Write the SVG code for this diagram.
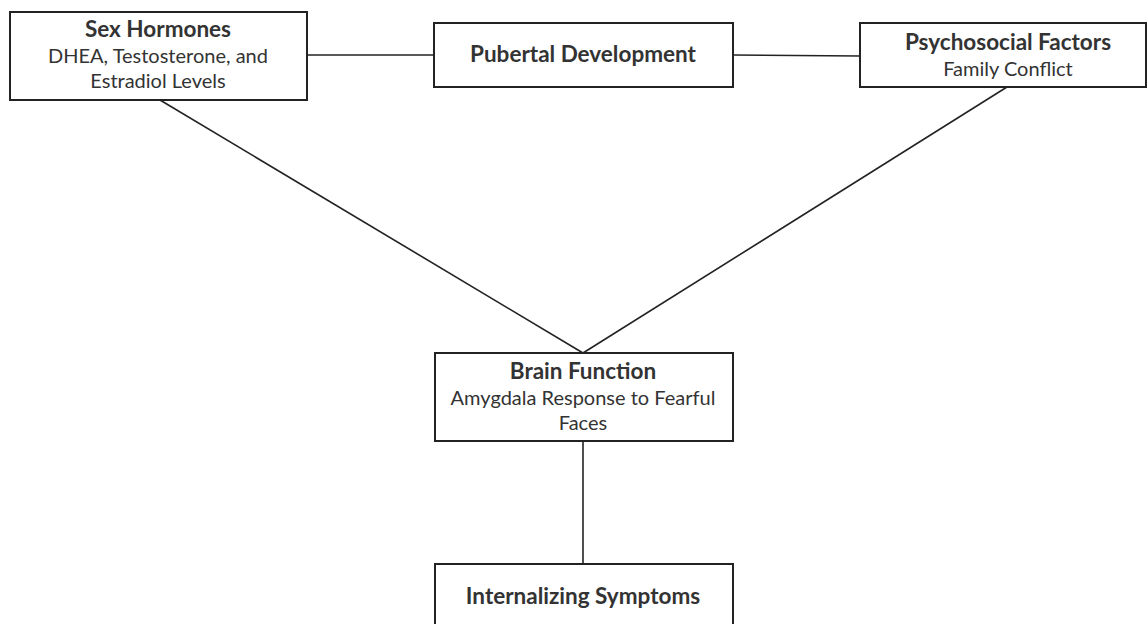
<svg xmlns="http://www.w3.org/2000/svg" width="1148" height="624" viewBox="0 0 1148 624">
<style>
.box{fill:#fff;stroke:#222;stroke-width:2}
.t{font-family:Lato,"Open Sans",sans-serif;fill:#333;text-anchor:middle}
.b{font-weight:bold;font-size:22.5px}
.r{font-size:20px}
.c{stroke:#222;stroke-width:1.6;fill:none}
</style>
<rect width="1148" height="624" fill="#fff"/>
<g id="connectors">
<line class="c" x1="307" y1="55" x2="434" y2="55"/>
<line class="c" x1="733" y1="55" x2="860" y2="56"/>
<line class="c" x1="160" y1="100" x2="583" y2="353"/>
<line class="c" x1="1007" y1="87" x2="583" y2="353"/>
<line class="c" x1="583" y1="441" x2="583" y2="564"/>
</g>
<g id="sex-hormones">
<rect class="box" x="10" y="12" width="297" height="88"/>
<text class="t b" x="158" y="37">Sex Hormones</text>
<text class="t r" x="158" y="63">DHEA, Testosterone, and</text>
<text class="t r" x="158" y="88">Estradiol Levels</text>
</g>
<g id="pubertal-development">
<rect class="box" x="434" y="23" width="299" height="64"/>
<text class="t b" x="583" y="62">Pubertal Development</text>
</g>
<g id="psychosocial-factors">
<rect class="box" x="860" y="23" width="286" height="64"/>
<text class="t b" x="1008" y="50">Psychosocial Factors</text>
<text class="t r" x="1008" y="76">Family Conflict</text>
</g>
<g id="brain-function">
<rect class="box" x="435" y="353" width="298" height="88"/>
<text class="t b" x="583" y="379">Brain Function</text>
<text class="t r" x="583" y="405">Amygdala Response to Fearful</text>
<text class="t r" x="583" y="430">Faces</text>
</g>
<g id="internalizing-symptoms">
<rect class="box" x="435" y="564" width="298" height="70"/>
<text class="t b" x="583" y="604">Internalizing Symptoms</text>
</g>
</svg>
